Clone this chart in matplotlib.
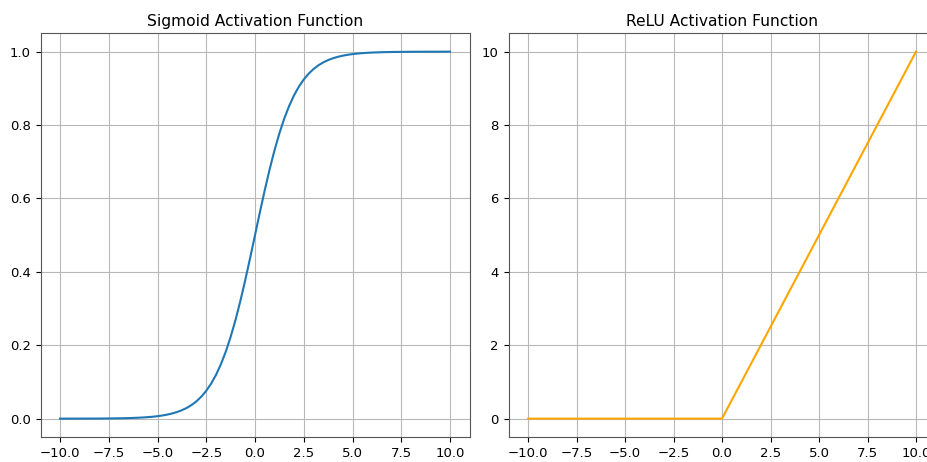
import matplotlib
matplotlib.use("Agg")
import matplotlib.pyplot as plt

# Sampled inputs and activation outputs
x_vals = [-10.0, -9.5, -9.0, -8.5, -8.0, -7.5, -7.0, -6.5,
          -6.0, -5.75, -5.5, -5.25, -5.0, -4.75, -4.5, -4.25, -4.0, -3.75, -3.5, -3.25,
          -3.0, -2.75, -2.5, -2.25, -2.0, -1.75, -1.5, -1.25, -1.0, -0.75, -0.5, -0.25,
          0.0, 0.25, 0.5, 0.75, 1.0, 1.25, 1.5, 1.75, 2.0, 2.25, 2.5, 2.75,
          3.0, 3.25, 3.5, 3.75, 4.0, 4.25, 4.5, 4.75, 5.0, 5.25, 5.5, 5.75, 6.0,
          6.5, 7.0, 7.5, 8.0, 8.5, 9.0, 9.5, 10.0]
sigmoid_vals = [0.0000, 0.0001, 0.0001, 0.0002, 0.0003, 0.0006, 0.0009, 0.0015,
                0.0025, 0.0032, 0.0041, 0.0052, 0.0067, 0.0086, 0.0110, 0.0141, 0.0180, 0.0230, 0.0293, 0.0373,
                0.0474, 0.0601, 0.0759, 0.0954, 0.1192, 0.1481, 0.1824, 0.2227, 0.2689, 0.3208, 0.3775, 0.4378,
                0.5000, 0.5622, 0.6225, 0.6792, 0.7311, 0.7773, 0.8176, 0.8519, 0.8808, 0.9046, 0.9241, 0.9399,
                0.9526, 0.9627, 0.9707, 0.9770, 0.9820, 0.9859, 0.9890, 0.9914, 0.9933, 0.9948, 0.9959, 0.9968, 0.9975,
                0.9985, 0.9991, 0.9994, 0.9997, 0.9998, 0.9999, 0.9999, 1.0000]

relu_x = [-10.0, 0.0, 10.0]
relu_vals = [0.0, 0.0, 10.0]

W, H = 927, 462
fig = plt.figure(figsize=(W / 100, H / 100), dpi=100)

def px_axes(x0, x1, y0, y1):
    return fig.add_axes([x0 / W, 1 - y1 / H, (x1 - x0) / W, (y1 - y0) / H])

ax1 = px_axes(40.5, 469.5, 33.3, 437.0)
ax2 = px_axes(508.6, 935.4, 33.3, 437.0)

ax1.plot(x_vals, sigmoid_vals, color="#1f77b4", linewidth=1.5)
ax1.set_title("Sigmoid Activation Function", fontsize=11.2, pad=5)
ax1.grid(True, color="#b8b8b8", linewidth=0.8)

ax2.plot(relu_x, relu_vals, color="orange", linewidth=1.5)
ax2.set_title("ReLU Activation Function", fontsize=11.2, pad=5)
ax2.grid(True, color="#b8b8b8", linewidth=0.8)

for ax in (ax1, ax2):
    ax.set_xticks([-10.0, -7.5, -5.0, -2.5, 0.0, 2.5, 5.0, 7.5, 10.0])
    ax.tick_params(labelsize=9.5)
    for s in ax.spines.values():
        s.set_color("#555555")
ax1.set_yticks([0.0, 0.2, 0.4, 0.6, 0.8, 1.0])
ax2.set_yticks([0, 2, 4, 6, 8, 10])

fig.savefig("out.png", dpi=100)
